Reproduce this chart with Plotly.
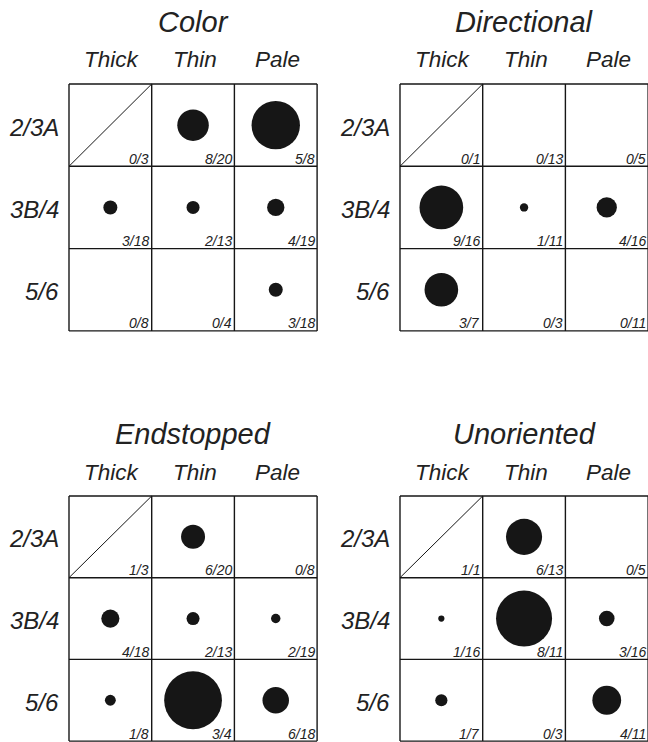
import plotly.graph_objects as go

# Panel names, column / row categories
panels = ["Color", "Directional", "Endstopped", "Unoriented"]
columns = ["Thick", "Thin", "Pale"]
rows = ["2/3A", "3B/4", "5/6"]

# Counts per cell: numerators (responsive cells) and denominators (cells tested)
color_num = [[0, 8, 5], [3, 2, 4], [0, 0, 3]]
color_den = [[3, 20, 8], [18, 13, 19], [8, 4, 18]]
directional_num = [[0, 0, 0], [9, 1, 4], [3, 0, 0]]
directional_den = [[1, 13, 5], [16, 11, 16], [7, 3, 11]]
endstopped_num = [[1, 6, 0], [4, 2, 2], [1, 3, 6]]
endstopped_den = [[3, 20, 8], [18, 13, 19], [8, 4, 18]]
unoriented_num = [[1, 6, 0], [1, 8, 3], [1, 0, 4]]
unoriented_den = [[1, 13, 5], [16, 11, 16], [7, 3, 11]]

numerators = [color_num, directional_num, endstopped_num, unoriented_num]
denominators = [color_den, directional_den, endstopped_den, unoriented_den]

# Page geometry (pixels): grid origin and cell size of each panel
W, H = 648, 742
boxes = [
    (69, 84, 82.7, 82.3),
    (400, 84, 82.7, 82.3),
    (69, 496, 82.7, 81.7),
    (400, 496, 82.7, 81.7),
]
PAD = 0.03
INK = "#161616"
TEXT = "#222222"
FONT = "Liberation Sans, Arial, sans-serif"
DOT_SCALE = 75.0   # marker diameter per unit of proportion
DOT_BASE = 1.5


def px(x):
    return x / W


def py(y):
    return 1 - y / H


fig = go.Figure()
layout_axes = {}
shapes = []
annotations = []


def label(x, y, text, size, xanchor="center", yanchor="middle"):
    annotations.append(dict(xref="paper", yref="paper", x=px(x), y=py(y),
                            xanchor=xanchor, yanchor=yanchor, showarrow=False,
                            text=f"<i>{text}</i>", borderpad=0,
                            font=dict(family=FONT, size=size, color=TEXT)))


for i, name in enumerate(panels):
    left, top, cw, ch = boxes[i]
    xa = "x" if i == 0 else f"x{i + 1}"
    ya = "y" if i == 0 else f"y{i + 1}"
    xkey = "xaxis" if i == 0 else f"xaxis{i + 1}"
    ykey = "yaxis" if i == 0 else f"yaxis{i + 1}"

    x0 = left - PAD * cw
    x1 = left + (3 + PAD) * cw
    xmax = 3 + PAD
    if x1 > W:
        x1 = W
        xmax = (W - left) / cw
    y0 = top - PAD * ch
    y1 = top + (3 + PAD) * ch
    ymax = 3 + PAD
    if y1 > H:
        y1 = H
        ymax = (H - top) / ch

    layout_axes[xkey] = dict(domain=[x0 / W, x1 / W], range=[-PAD, xmax],
                             visible=False, fixedrange=True, anchor=ya)
    layout_axes[ykey] = dict(domain=[1 - y1 / H, 1 - y0 / H], range=[ymax, -PAD],
                             visible=False, fixedrange=True, anchor=xa)

    # grid lines
    for k in range(4):
        shapes.append(dict(type="line", xref=xa, yref=ya, x0=k, x1=k, y0=0, y1=3,
                           line=dict(color=INK, width=1.4)))
        shapes.append(dict(type="line", xref=xa, yref=ya, x0=0, x1=3, y0=k, y1=k,
                           line=dict(color=INK, width=1.4)))
    # diagonal in the Thick / 2/3A cell
    shapes.append(dict(type="line", xref=xa, yref=ya, x0=0, y0=1, x1=1, y1=0,
                       line=dict(color=INK, width=1)))

    # dots, diameter proportional to the fraction of responsive cells
    xs, ys, sizes = [], [], []
    for r in range(3):
        for c in range(3):
            n = numerators[i][r][c]
            d = denominators[i][r][c]
            if (r == 0 and c == 0) or n == 0:
                continue
            xs.append(c + 0.5)
            ys.append(r + 0.5)
            sizes.append(DOT_BASE + DOT_SCALE * n / d)

    fig.add_trace(go.Scatter(x=xs, y=ys, xaxis=xa, yaxis=ya, mode="markers",
                             marker=dict(size=sizes, color=INK, opacity=1,
                                         line=dict(width=0)),
                             hoverinfo="skip", showlegend=False))

    # fraction labels, bottom-right corner of each cell
    for r in range(3):
        for c in range(3):
            label(left + (c + 1) * cw - 1.5, top + (r + 1) * ch + 1.5,
                  f"{numerators[i][r][c]}/{denominators[i][r][c]}", 14,
                  xanchor="right", yanchor="bottom")

    # panel title
    label(left + 1.5 * cw, top - 62, name, 29)
    # column headers
    for c, lab in enumerate(columns):
        label(left + (c + 0.5) * cw + 2, top - 24, lab, 22.5)
    # row labels
    for r, lab in enumerate(rows):
        label(left - 9, top + (r + 0.5) * ch + 2, lab, 24, xanchor="right")

fig.update_layout(
    width=W, height=H,
    margin=dict(l=0, r=0, t=0, b=0),
    paper_bgcolor="white", plot_bgcolor="white",
    shapes=shapes, annotations=annotations,
    showlegend=False,
    **layout_axes,
)

fig.write_html("out.html", config={"displayModeBar": False})
